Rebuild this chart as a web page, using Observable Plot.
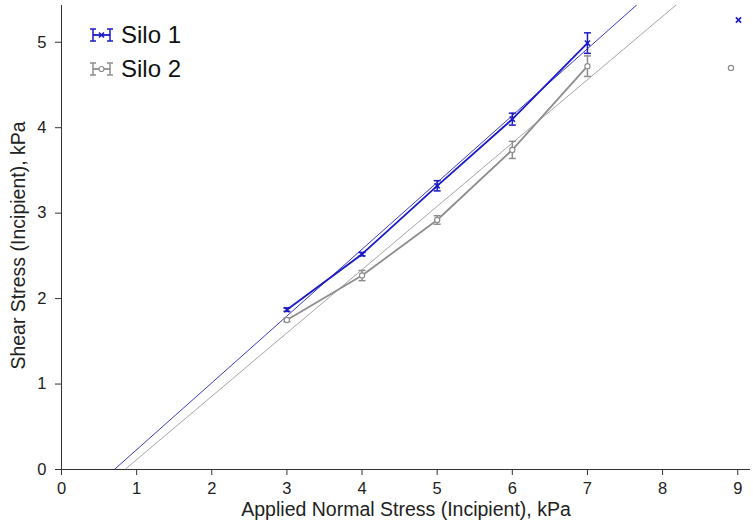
<!DOCTYPE html>
<html><head><meta charset="utf-8">
<script src="https://cdn.jsdelivr.net/npm/d3@7"></script>
<script src="https://cdn.jsdelivr.net/npm/@observablehq/plot@0.6"></script>
<style>
body{margin:0;background:#fff;font-family:"Liberation Sans",Arial,sans-serif;}
#wrap{position:relative;width:753px;height:528px;overflow:hidden;}
#legend{position:absolute;left:90px;top:18px;font-size:24px;color:#111;}
#legend .row{display:flex;align-items:center;height:34px;}
#legend svg{margin-right:8px;}
</style></head><body><div id="wrap"></div>
<script>
const stress = [3, 4, 5, 6, 7];
const silo1 = [1.87, 2.52, 3.32, 4.10, 4.99];
const silo1Err = [0.02, 0.02, 0.06, 0.07, 0.12];
const silo2 = [1.75, 2.27, 2.92, 3.74, 4.72];
const silo2Err = [0.02, 0.06, 0.05, 0.10, 0.12];
const seriesNames = ["Silo 1", "Silo 2"];
const extraX = [9.01, 8.91];
const extraY = [5.26, 4.70];
const xTicks = [0, 1, 2, 3, 4, 5, 6, 7, 8, 9];
const yTicks = [0, 1, 2, 3, 4, 5];
const xDomain = [0, 9.17];
const yDomain = [0, 5.43];

const colors = {"Silo 1": "#1a1ac8", "Silo 2": "#8e8e8e"};
const fitColors = {"Silo 1": "#3b3bc4", "Silo 2": "#a6a6a6"};

const rows = [];
[[silo1, silo1Err], [silo2, silo2Err]].forEach(([ys, es], i) => {
  stress.forEach((x, j) => rows.push({series: seriesNames[i], x, y: ys[j], lo: ys[j] - es[j], hi: ys[j] + es[j]}));
});
const extras = seriesNames.map((s, i) => ({series: s, x: extraX[i], y: extraY[i]}));

// least-squares fit lines from the data
const fits = [];
seriesNames.forEach((s, i) => {
  const ys = i === 0 ? silo1 : silo2;
  const mx = d3.mean(stress), my = d3.mean(ys);
  const sxy = d3.sum(stress, (x, j) => (x - mx) * (ys[j] - my));
  const sxx = d3.sum(stress, x => (x - mx) ** 2);
  const b = sxy / sxx, a = my - b * mx;
  xDomain.forEach(x => fits.push({series: s, x, y: a + b * x}));
});

const cross = {draw(c) { const r = 2.6; c.moveTo(-r, -r); c.lineTo(r, r); c.moveTo(-r, r); c.lineTo(r, -r); }};
const cap = {draw(c) { c.moveTo(-3.5, 0); c.lineTo(3.5, 0); }};

const plot = Plot.plot({
  width: 753, height: 528,
  marginLeft: 61, marginRight: 3, marginTop: 5, marginBottom: 59,
  style: {fontFamily: "'Liberation Sans', Arial, sans-serif", background: "#fff"},
  x: {domain: xDomain},
  y: {domain: yDomain},
  marks: [
    Plot.line(fits, {x: "x", y: "y", z: "series", stroke: d => fitColors[d.series], strokeWidth: 1, clip: true}),
    Plot.line(rows, {x: "x", y: "y", z: "series", stroke: d => colors[d.series], strokeWidth: 1.8}),
    Plot.ruleX(rows, {x: "x", y1: "lo", y2: "hi", stroke: d => colors[d.series], strokeWidth: 1.5}),
    Plot.dot(rows, {x: "x", y: "lo", symbol: cap, stroke: d => colors[d.series], strokeWidth: 1.5}),
    Plot.dot(rows, {x: "x", y: "hi", symbol: cap, stroke: d => colors[d.series], strokeWidth: 1.5}),
    Plot.dot(rows.filter(d => d.series === "Silo 1"), {x: "x", y: "y", symbol: cross, stroke: colors["Silo 1"], strokeWidth: 1.6}),
    Plot.dot(rows.filter(d => d.series === "Silo 2"), {x: "x", y: "y", r: 2.6, fill: "#fff", stroke: colors["Silo 2"], strokeWidth: 1.2}),
    Plot.dot(extras.slice(0, 1), {x: "x", y: "y", symbol: cross, stroke: colors["Silo 1"], strokeWidth: 1.6}),
    Plot.dot(extras.slice(1), {x: "x", y: "y", r: 2.6, fill: "#fff", stroke: colors["Silo 2"], strokeWidth: 1.2}),
    Plot.ruleY([0], {stroke: "#333", strokeWidth: 1}),
    Plot.ruleX([0], {stroke: "#333", strokeWidth: 1}),
    Plot.axisX({ticks: xTicks, tickFormat: "d", tickSize: 6, tickPadding: 7, fontSize: 16.5, stroke: "#333", color: "#222", label: null}),
    Plot.axisY({ticks: yTicks, tickFormat: "d", tickSize: 6, tickPadding: 9, fontSize: 16.5, stroke: "#333", color: "#222", label: null}),
    Plot.text(["Applied Normal Stress (Incipient), kPa"], {frameAnchor: "bottom", dy: 46, fontSize: 19.5, fill: "#222"}),
    Plot.text(["Shear Stress (Incipient), kPa"], {frameAnchor: "left", textAnchor: "middle", dx: -43, dy: 8, rotate: -90, fontSize: 19.5, fill: "#222"})
  ]
});

const wrap = document.getElementById("wrap");
wrap.appendChild(plot);

function icon(color, marker) {
  const m = marker === "x"
    ? `<path d="M9,7.5L14,12.5M9,12.5L14,7.5" stroke="${color}" stroke-width="1.6"/>`
    : `<circle cx="11.5" cy="10" r="2.5" fill="#fff" stroke="${color}" stroke-width="1.2"/>`;
  return `<svg width="23" height="20" viewBox="0 0 23 20">
    <line x1="3" y1="10" x2="20" y2="10" stroke="${color}" stroke-width="1.8"/>
    <line x1="3" y1="4" x2="3" y2="16" stroke="${color}" stroke-width="1.5"/>
    <line x1="0" y1="4" x2="6" y2="4" stroke="${color}" stroke-width="1.5"/>
    <line x1="0" y1="16" x2="6" y2="16" stroke="${color}" stroke-width="1.5"/>
    <line x1="20" y1="4" x2="20" y2="16" stroke="${color}" stroke-width="1.5"/>
    <line x1="17" y1="4" x2="23" y2="4" stroke="${color}" stroke-width="1.5"/>
    <line x1="17" y1="16" x2="23" y2="16" stroke="${color}" stroke-width="1.5"/>
    ${m}</svg>`;
}
const legend = document.createElement("div");
legend.id = "legend";
legend.innerHTML = seriesNames.map((s, i) =>
  `<div class="row">${icon(colors[s], i === 0 ? "x" : "o")}<span>${s}</span></div>`).join("");
wrap.appendChild(legend);
</script>
</body></html>
